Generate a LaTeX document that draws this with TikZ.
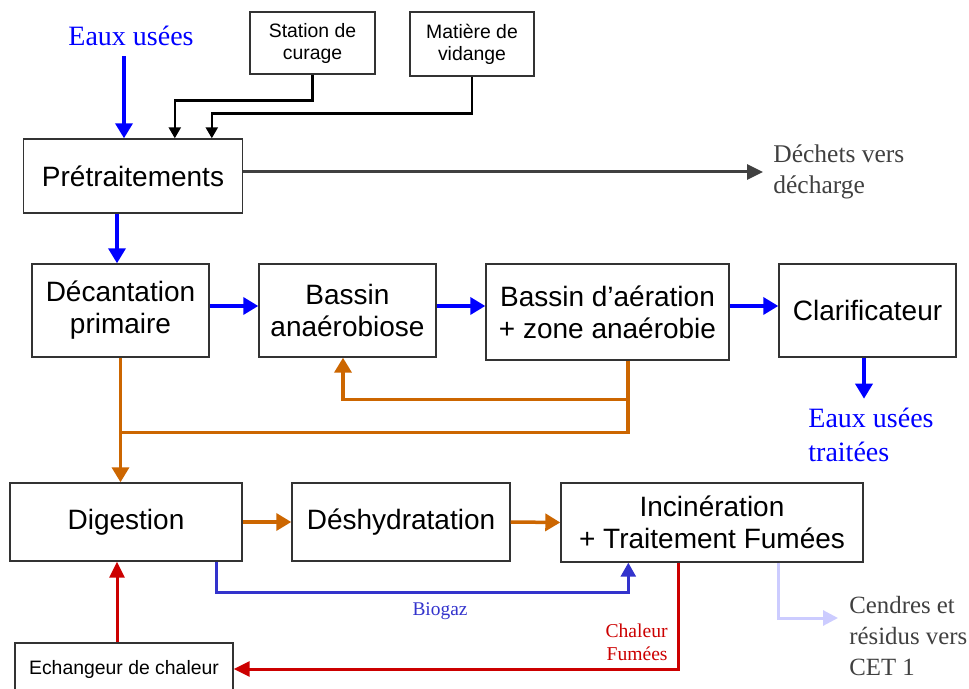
\documentclass[tikz,border=0pt]{standalone}
\usepackage{fontspec}
\setmainfont{Liberation Serif}
\setsansfont{Liberation Sans}
\usepackage{xcolor}
\usetikzlibrary{arrows.meta}

\definecolor{flowblue}{RGB}{0,0,255}
\definecolor{sludge}{RGB}{204,102,0}
\definecolor{gasblue}{RGB}{51,51,204}
\definecolor{heatred}{RGB}{204,0,0}
\definecolor{ashblue}{RGB}{204,204,255}
\definecolor{wastegray}{RGB}{64,64,64}

\tikzset{
  stage/.style={draw=black!80, line width=0.7pt, fill=white, inner sep=0pt,
    align=center, font=\sffamily\fontsize{14}{16}\selectfont},
  source/.style={draw=black!80, line width=0.7pt, fill=white, inner sep=0pt,
    align=center, font=\sffamily\fontsize{9.7}{11}\selectfont},
  note/.style={inner sep=0pt, align=left, font=\rmfamily\fontsize{12.75}{15.5}\selectfont},
  water/.style={flowblue, line width=1.75pt, -{Triangle[length=7.5pt,width=8.5pt]}},
  sludgeline/.style={sludge, line width=1.75pt},
  sludgearrow/.style={sludgeline, -{Triangle[length=7.5pt,width=8.5pt]}},
  feed/.style={black, line width=1.2pt, -{Triangle[length=5.5pt,width=6pt]}},
  waste/.style={wastegray, line width=1.5pt, -{Triangle[length=8pt,width=7.5pt]}},
  gas/.style={gasblue, line width=1.4pt, -{Triangle[length=7pt,width=7.5pt]}},
  heat/.style={heatred, line width=1.5pt, -{Triangle[length=8pt,width=7.5pt]}},
  ash/.style={ashblue, line width=1.5pt, -{Triangle[length=7.5pt,width=7.5pt]}}
}

\begin{document}
\begin{tikzpicture}[x=0.5pt, y=-0.5pt]
    \useasboundingbox (0,0) rectangle (969,689);
    % Inputs
    \node[flowblue, inner sep=5pt, font=\rmfamily\fontsize{14}{17}\selectfont] (eaux) at (131,36) {Eaux usées};
    \node[source, minimum width=62.5pt, minimum height=31pt] (station) at (312.5,43) {Station de\\curage};
    \node[source, minimum width=62pt, minimum height=32pt] (matiere) at (472,44) {Matière de\\vidange};
    % Water line
    \node[stage, minimum width=109.5pt, minimum height=37pt] (pretr) at (133,176) {Prétraitements};
    \node[stage, minimum width=88.5pt, minimum height=46.5pt] (decant) at (120.5,310.5) {Décantation\\primaire};
    \node[stage, minimum width=88.5pt, minimum height=46.5pt] (bassin) at (347.5,310.5) {Bassin\\anaérobiose};
    \node[stage, minimum width=121.5pt, minimum height=48pt] (aeration) at (607.5,312) {Bassin d’aération\\+ zone anaérobie};
    \node[stage, minimum width=88.5pt, minimum height=46.5pt] (clarif) at (867.5,310.5) {Clarificateur};
    % Sludge line
    \node[stage, minimum width=116pt, minimum height=39pt] (digestion) at (126,522) {Digestion};
    \node[stage, minimum width=109pt, minimum height=39pt] (deshyd) at (401,522) {Déshydratation};
    \node[stage, minimum width=151pt, minimum height=39.5pt] (incin) at (712,522.5) {Incinération\\+ Traitement Fumées};
    \node[source, minimum width=109pt, minimum height=26pt] (echang) at (124,669) {Echangeur de chaleur};
    % Outputs
    \node[note, wastegray, anchor=west, inner xsep=5pt] (dechets) at (763,172) {Déchets vers\\décharge};
    \node[note, flowblue, anchor=west, font=\rmfamily\fontsize{14}{17}\selectfont] (traitees) at (808,435) {Eaux usées\\traitées};
    \node[note, wastegray, anchor=west, inner xsep=5.5pt, font=\rmfamily\fontsize{12.4}{15.5}\selectfont] (cendres) at (838,636) {Cendres et\\résidus vers\\CET 1};
    \node[gasblue, inner sep=0pt, font=\rmfamily\fontsize{9.7}{11}\selectfont] (biogaz) at (440,611) {Biogaz};
    \node[heatred, anchor=east, inner sep=0pt, align=right, font=\rmfamily\fontsize{9.8}{11.5}\selectfont] (chaleur) at (668,642) {Chaleur\\Fumées};

    % Water arrows
    \draw[water] ([xshift=-3.5pt]eaux.south) -- ([xshift=-3.5pt]eaux.south |- pretr.north);
    \draw[feed] (station.south) -- ++(0,26) -| ([shift={(152,0)}]pretr.north west);
    \draw[feed] (matiere.south) -- ++(0,37) -| ([shift={(189,0)}]pretr.north west);
    \draw[waste] (pretr.east |- dechets.west) -- (dechets.west);
    \draw[water] ([xshift=-1.75pt]decant.north |- pretr.south) -- ([xshift=-1.75pt]decant.north);
    \draw[water] ([yshift=2.25pt]decant.east) -- ([yshift=2.25pt]bassin.west);
    \draw[water] ([yshift=2.25pt]bassin.east) -- ([yshift=2.25pt]bassin.east -| aeration.west);
    \draw[water] ([yshift=2.25pt]clarif.west -| aeration.east) -- ([yshift=2.25pt]clarif.west);
    \draw[water] ([xshift=-1.75pt]clarif.south) -- ++(0,41);

    % Sludge arrows
    \draw[sludgeline] ([xshift=10.25pt]aeration.south) -- ++(0,72) coordinate (sl) -- (sl -| decant.south);
    \path ([xshift=10.25pt]aeration.south) ++(0,39) coordinate (recirc);
    \draw[sludgearrow] (recirc) -| ([xshift=-2.25pt]bassin.south);
    \draw[sludgearrow] (decant.south) -- (decant.south |- digestion.north);
    \draw[sludgearrow] (digestion.east) -- (deshyd.west);
    \draw[sludgearrow] (deshyd.east) -- (incin.west);

    % Gas, heat and ash
    \draw[gas] ([shift={(-26,0)}]digestion.south east) -- ++(0,31) -| ([shift={(68,0)}]incin.south west);
    \draw[heat] ([shift={(118,0)}]incin.south west) |- (echang.east);
    \draw[heat] ([xshift=-3.5pt]echang.north) -- ([xshift=-3.5pt]echang.north |- digestion.south);
    \draw[ash] ([shift={(218,0)}]incin.south west) |- ([yshift=9pt]cendres.west);
\end{tikzpicture}
\end{document}
